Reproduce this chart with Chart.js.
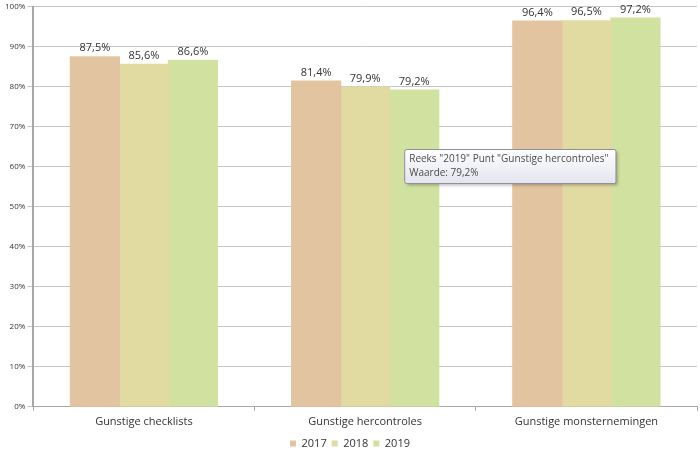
<!DOCTYPE html>
<html>
<head>
<meta charset="utf-8">
<script src="https://cdn.jsdelivr.net/npm/chart.js@4"></script>
<style>
  html, body { margin: 0; padding: 0; background: #fff; }
  #wrap { width: 700px; height: 456px; position: relative; }
</style>
</head>
<body>
<div id="wrap"><canvas id="chart"></canvas></div>
<script>
// categorieën en reeksen
const categories = ['Gunstige checklists', 'Gunstige hercontroles', 'Gunstige monsternemingen'];
const years = ['2017', '2018', '2019'];
const values2017 = [87.5, 81.4, 96.4];
const values2018 = [85.6, 79.9, 96.5];
const values2019 = [86.6, 79.2, 97.2];
const colors = ['#E3C4A0', '#E1DBA1', '#D1E1A0'];
const yTicks = [0, 10, 20, 30, 40, 50, 60, 70, 80, 90, 100];

const fontFam = '"Open Sans", "Noto Sans", sans-serif';
const fmt = v => v.toFixed(1).replace('.', ',') + '%';

// waarden boven de staven
const labelPlugin = {
    id: 'barLabels',
    afterDatasetsDraw(chart) {
        const ctx = chart.ctx;
        ctx.save();
        ctx.font = '11px ' + fontFam;
        ctx.fillStyle = '#333';
        ctx.textAlign = 'center';
        ctx.textBaseline = 'bottom';
        chart.data.datasets.forEach((ds, i) => {
            chart.getDatasetMeta(i).data.forEach((bar, j) => {
                ctx.fillText(fmt(ds.data[j]), bar.x, bar.y - 3);
            });
        });
        ctx.restore();
    }
};

// tooltip zoals in de schermafdruk (reeks 2019, tweede categorie)
const tipPlugin = {
    id: 'staticTip',
    afterDraw(chart) {
        const bar = chart.getDatasetMeta(2).data[1];
        const ctx = chart.ctx;
        const lines = ['Reeks "2019" Punt "Gunstige hercontroles"', 'Waarde: ' + fmt(values2019[1])];
        ctx.save();
        ctx.font = '10px ' + fontFam;
        const w = Math.max(...lines.map(l => ctx.measureText(l).width)) + 12;
        const h = 34;
        const x = bar.x - 10, y = bar.y + 59;
        ctx.shadowColor = 'rgba(0,0,0,0.25)';
        ctx.shadowBlur = 3;
        ctx.shadowOffsetX = 2;
        ctx.shadowOffsetY = 2;
        const g = ctx.createLinearGradient(0, y, 0, y + h);
        g.addColorStop(0, '#ffffff');
        g.addColorStop(1, '#e4e5ee');
        ctx.fillStyle = g;
        ctx.beginPath();
        ctx.roundRect(x + 0.5, y + 0.5, w, h, 2);
        ctx.fill();
        ctx.shadowColor = 'transparent';
        ctx.strokeStyle = '#8e8f98';
        ctx.lineWidth = 1;
        ctx.stroke();
        ctx.fillStyle = '#4c4c4c';
        ctx.textBaseline = 'middle';
        ctx.fillText(lines[0], x + 5, y + 10);
        ctx.fillText(lines[1], x + 5, y + 24);
        ctx.restore();
    }
};

new Chart(document.getElementById('chart'), {
    type: 'bar',
    data: {
        labels: categories,
        datasets: [
            { label: years[0], data: values2017, backgroundColor: colors[0] },
            { label: years[1], data: values2018, backgroundColor: colors[1] },
            { label: years[2], data: values2019, backgroundColor: colors[2] }
        ]
    },
    options: {
        responsive: true,
        maintainAspectRatio: false,
        animation: false,
        layout: { padding: { top: 2, right: 3, left: 3, bottom: -3 } },
        datasets: { bar: { categoryPercentage: 0.665, barPercentage: 1, inflateAmount: 0.6 } },
        plugins: {
            legend: {
                position: 'bottom',
                labels: {
                    boxWidth: 6, boxHeight: 6, padding: 5,
                    color: '#333',
                    font: { family: fontFam, size: 11 }
                }
            },
            tooltip: { enabled: false }
        },
        scales: {
            x: {
                offset: true,
                afterFit: axis => { axis.height += 1; },
                grid: {
                    offset: true, drawOnChartArea: false, drawTicks: true,
                    tickLength: 4, color: '#a6a6a6'
                },
                border: { color: '#a6a6a6', width: 1 },
                ticks: { color: '#333', font: { family: fontFam, size: 11 }, padding: 4 }
            },
            y: {
                min: 0, max: 100,
                afterBuildTicks: axis => { axis.ticks = yTicks.map(v => ({ value: v })); },
                grid: { color: '#c6c6c6', tickLength: 6, drawTicks: true },
                border: { color: '#a6a6a6', width: 2 },
                ticks: {
                    color: '#333', font: { family: fontFam, size: 8 }, padding: 2,
                    callback: v => v + '%'
                }
            }
        }
    },
    plugins: [labelPlugin, tipPlugin]
});
</script>
</body>
</html>
